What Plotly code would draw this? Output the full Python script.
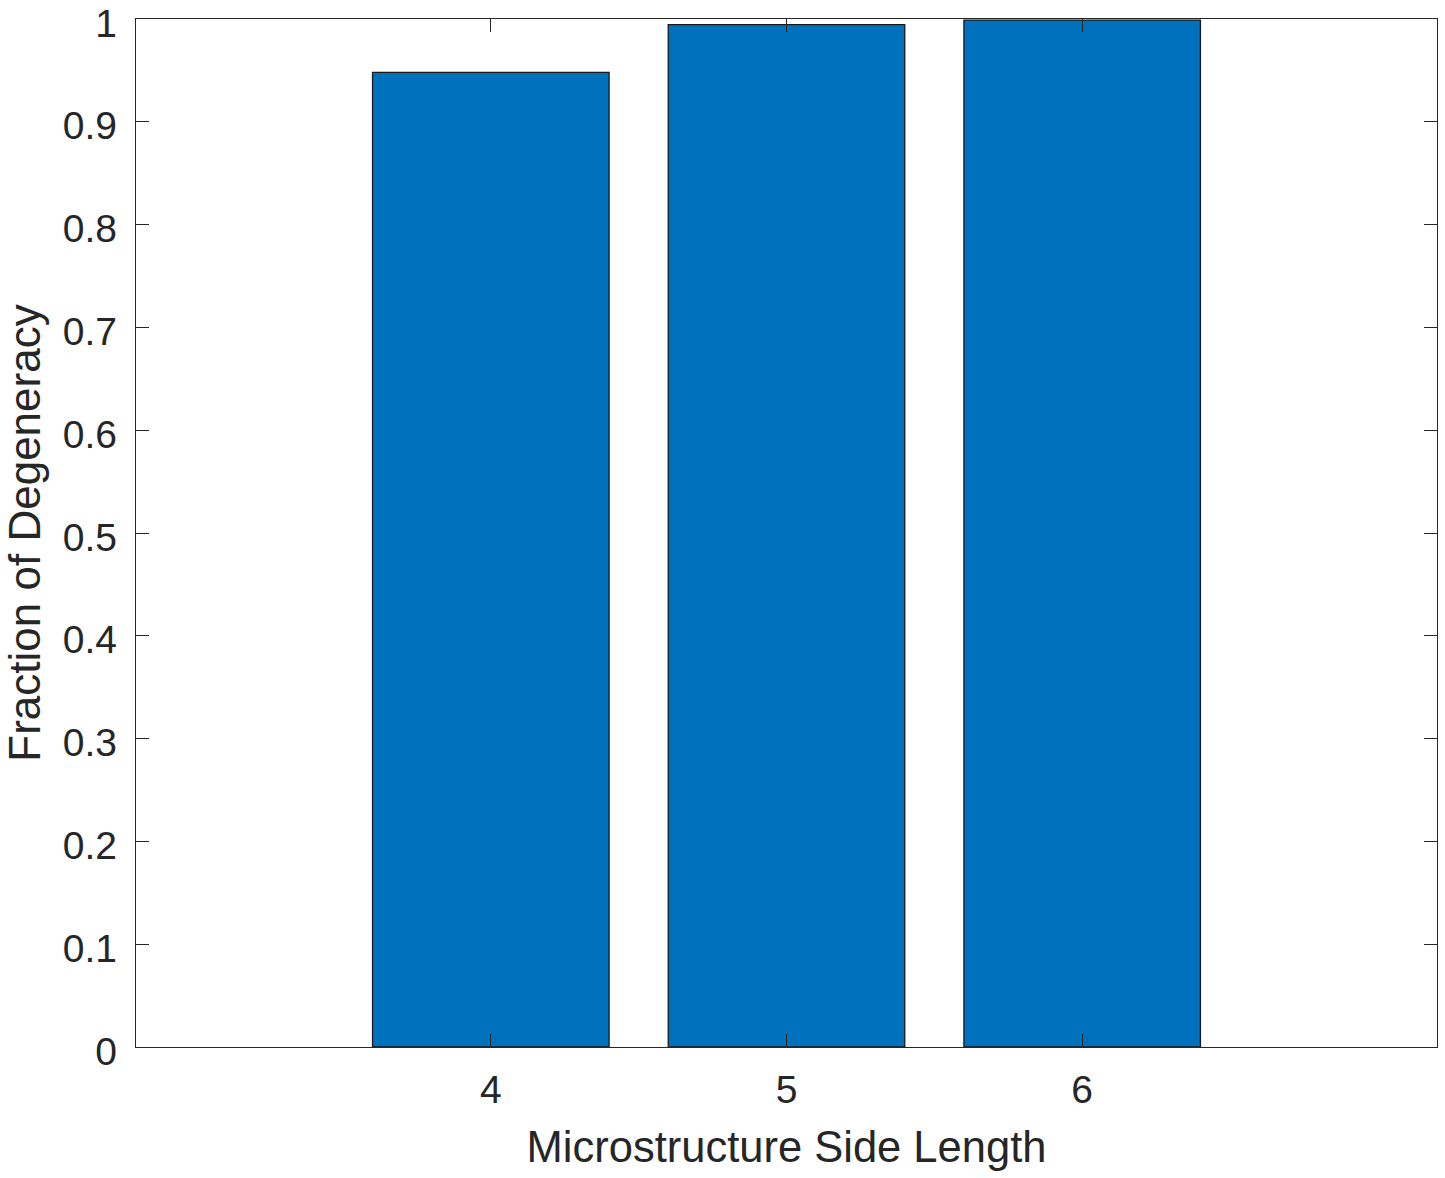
import plotly.graph_objects as go

categories = [4, 5, 6]
fractions = [0.948, 0.9945, 0.999]
y_tickvals = [0, 0.1, 0.2, 0.3, 0.4, 0.5, 0.6, 0.7, 0.8, 0.9, 1]
y_ticktext = ["0", "0.1", "0.2", "0.3", "0.4", "0.5", "0.6", "0.7", "0.8", "0.9", "1"]
x_tickvals = [4, 5, 6]
x_ticktext = ["4", "5", "6"]

axis_color = "#262626"
font_family = "Arial, Liberation Sans, Helvetica, sans-serif"

fig = go.Figure(
    go.Bar(
        x=categories,
        y=fractions,
        width=0.8,
        marker=dict(color="#0072BD", line=dict(color="#1a1a1a", width=1.3)),
    )
)

fig.update_layout(
    width=1445,
    height=1178,
    margin=dict(l=136, r=8, t=19, b=131, autoexpand=False),
    plot_bgcolor="white",
    paper_bgcolor="white",
    showlegend=False,
    font=dict(family=font_family, color=axis_color, size=38),
)

fig.update_xaxes(
    range=[2.8, 7.2],
    tickvals=x_tickvals,
    ticktext=x_ticktext,
    ticks="inside",
    ticklen=13,
    tickwidth=1.3,
    tickcolor=axis_color,
    showline=True,
    linecolor=axis_color,
    linewidth=1.3,
    mirror="ticks",
    showgrid=False,
    zeroline=False,
    automargin=False,
    ticklabeloverflow="allow",
    tickfont=dict(size=39, color=axis_color),
    ticklabelstandoff=8,
    title=dict(text="Microstructure Side Length", font=dict(size=43.5, color=axis_color), standoff=21),
)

fig.update_yaxes(
    range=[0, 1],
    tickvals=y_tickvals,
    ticktext=y_ticktext,
    ticks="inside",
    ticklen=13,
    tickwidth=1.3,
    tickcolor=axis_color,
    showline=True,
    linecolor=axis_color,
    linewidth=1.3,
    mirror="ticks",
    showgrid=False,
    zeroline=False,
    automargin=False,
    ticklabeloverflow="allow",
    tickfont=dict(size=39, color=axis_color),
    ticklabelstandoff=10,
    ticklabelshift=4,
    title=dict(text="Fraction of Degeneracy", font=dict(size=44, color=axis_color), standoff=15),
)

fig.write_html(
    "out.html",
    config={"displayModeBar": False},
    post_script="document.body.style.margin='0';document.body.style.overflow='hidden';",
)
